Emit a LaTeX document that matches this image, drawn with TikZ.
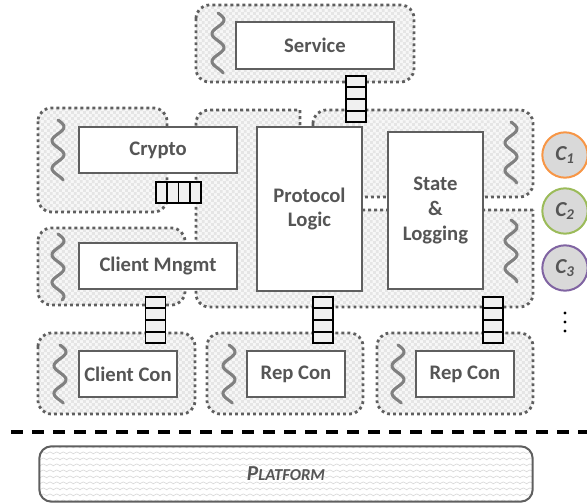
\documentclass[tikz,border=0pt]{standalone}
\usepackage{fontspec}
\setmainfont{Carlito}
\usetikzlibrary{calc,patterns}

\definecolor{txtgray}{HTML}{555555}
\definecolor{linegray}{HTML}{5F5F5F}
\definecolor{cellgray}{HTML}{F0F0F0}
\definecolor{cone}{HTML}{F79646}
\definecolor{ctwo}{HTML}{9BBB59}
\definecolor{cthree}{HTML}{8064A2}
\definecolor{circfill}{HTML}{D9D9D9}

\pgfdeclarepatternformonly{finechecker}{\pgfpointorigin}{\pgfqpoint{4.4pt}{4.4pt}}{\pgfqpoint{4.4pt}{4.4pt}}{%
  \pgfpathrectangle{\pgfpointorigin}{\pgfqpoint{2.2pt}{2.2pt}}%
  \pgfpathrectangle{\pgfqpoint{2.2pt}{2.2pt}}{\pgfqpoint{2.2pt}{2.2pt}}%
  \pgfusepath{fill}}
\pgfdeclarepatternformonly{zigzaglines}{\pgfqpoint{-1pt}{-1pt}}{\pgfqpoint{6pt}{3pt}}{\pgfqpoint{5pt}{4.5pt}}{%
  \pgfsetlinewidth{0.5pt}%
  \pgfpathmoveto{\pgfqpoint{-0.5pt}{0.8pt}}%
  \pgfpathlineto{\pgfqpoint{2.5pt}{2.3pt}}%
  \pgfpathlineto{\pgfqpoint{5.5pt}{0.8pt}}%
  \pgfusepath{stroke}}

\begin{document}
\begin{tikzpicture}[x=0.75pt,y=-0.75pt,
    box/.style={draw=linegray,line width=1.5pt,fill=white,inner sep=0pt,align=center,
      text=txtgray,font=\fontsize{15.5}{18.5}\selectfont\bfseries},
    region/.style={draw=linegray,line width=2.1pt,dash pattern=on 2.1pt off 2.4pt,rounded corners=10pt,
      preaction={fill=gray!6},pattern=finechecker,pattern color=gray!20},
    thread/.style={draw=gray,line width=2.3pt,line cap=round,line join=round},
    cell/.style={draw=black,line width=1.1pt,fill=cellgray,inner sep=0pt},
    cellline/.style={draw=black,line width=1.1pt},
    ctx/.style={circle,line width=1.5pt,fill=circfill,minimum size=34pt,inner sep=0pt,
      text=txtgray,font=\fontsize{16}{18}\selectfont\bfseries\itshape},
    dot/.style={circle,fill=black,inner sep=0pt,minimum size=2.6pt}
  ]
  \useasboundingbox (0,0) rectangle (587,503);

  % thread regions
  \draw[region] (196,5) rectangle (414,82);
  \draw[region] (38,108) rectangle (167,212);
  \draw[region] (38,228) rectangle (185,305);
  \draw[region] (313,110) rectangle (533,197);
  \draw[region,sharp corners] (533,210) -- (300,210) -- (300,110) -- (250,110)
    [rounded corners=10pt] -- (196,110) -- (196,307) -- (533,307) -- (533,260)
    [sharp corners] -- cycle;
  \draw[region] (38,333) rectangle (195,414);
  \draw[region] (207,333) rectangle (363,414);
  \draw[region] (377,333) rectangle (533,414);

  % threads
  \foreach \tx/\ta/\tb in {218/13/73,58/120/180,58/234/300,511/122/183,511/220/282,60/345/403,229/345/403,398/345/403}
    \draw[thread] plot[domain=\ta:\tb,samples=49,smooth] ({\tx+6*sin((\x-\ta)*13)},{\x});

  % components
  \node[box,minimum width=118.5pt,minimum height=35pt] (service) at (315,45.5) {Service};
  \node[box,minimum width=118.5pt,minimum height=34.5pt] (crypto) at (158,150) {Crypto};
  \node[box,minimum width=118.5pt,minimum height=34.5pt] (mngmt) at (158,266) {Client Mngmt};
  \node[box,minimum width=79pt,minimum height=123pt] (protocol) at (309.5,209) {Protocol\\Logic};
  \node[box,minimum width=71pt,minimum height=118pt] (state) at (435.5,210.5) {State\\\&\\Logging};
  \node[box,minimum width=73.5pt,minimum height=34.5pt] (clientcon) at (128,374) {Client Con};
  \node[box,minimum width=73.5pt,minimum height=34.5pt] (repcona) at (296,374) {Rep Con};
  \node[box,minimum width=73.5pt,minimum height=34.5pt] (repconb) at (465,374) {Rep Con};

  % queues
  \foreach \q/\qx/\qy in {qsvc/356/99,qmng/155.5/320,qrepa/323/320,qrepb/493/320}{
    \node[cell,minimum width=15pt,minimum height=34.5pt] (\q) at (\qx,\qy) {};
    \foreach \k in {1,2,3}
      \draw[cellline] ($(\q.north west)!\k/4!(\q.south west)$) -- ($(\q.north east)!\k/4!(\q.south east)$);
  }
  \node[cell,minimum width=33.75pt,minimum height=15.75pt] (qcry) at (178.5,192.5) {};
  \foreach \k in {1,2,3}
    \draw[cellline] ($(qcry.north west)!\k/4!(qcry.north east)$) -- ($(qcry.south west)!\k/4!(qcry.south east)$);

  % contexts
  \node[ctx,draw=cone] (cA) at (565,155) {C\textsubscript{1}};
  \node[ctx,draw=ctwo] (cB) at (565,211) {C\textsubscript{2}};
  \node[ctx,draw=cthree] (cC) at (565,268) {C\textsubscript{3}};
  \node[dot] (dA) at (565,313) {};
  \node[dot] (dB) at (565,322) {};
  \node[dot] (dC) at (565,331) {};

  % platform
  \draw[line width=2.6pt,dash pattern=on 9pt off 6.75pt] (11,432) -- (587,432);
  \node[draw=linegray,line width=1.5pt,rounded corners=9pt,minimum width=370pt,minimum height=41.5pt,
    pattern=zigzaglines,pattern color=gray!30,text=txtgray,inner sep=0pt] (platform) at (286,474)
    {\bfseries\itshape\fontsize{16}{18}\selectfont P\fontsize{12.5}{14}\selectfont LATFORM};
\end{tikzpicture}
\end{document}
